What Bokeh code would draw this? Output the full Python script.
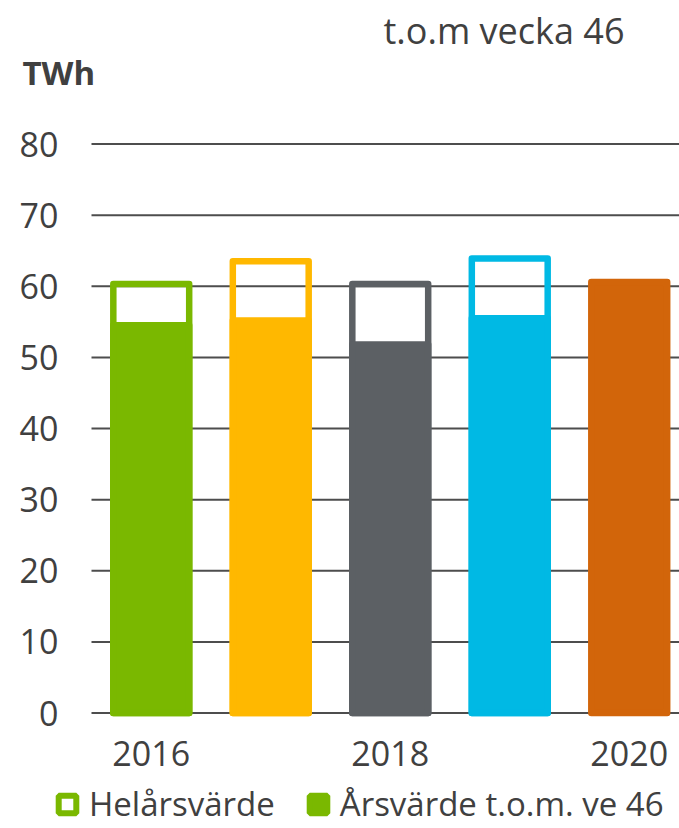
from bokeh.plotting import figure
from bokeh.models import Range1d, FixedTicker, Label, Legend, LegendItem
from bokeh.embed import file_html
from bokeh.resources import INLINE

# ---- data ----
years = ["2016", "2017", "2018", "2019", "2020"]
full_year = [60.3, 63.5, 60.3, 63.9, None]      # Helårsvärde (outline)
ytd_w46 = [54.5, 55.2, 51.8, 55.5, 60.6]        # Årsvärde t.o.m. vecka 46 (filled)
bar_colors = ["#7AB800", "#FFB800", "#5C6064", "#00B9E4", "#D2650A"]
y_ticks = [0, 10, 20, 30, 40, 50, 60, 70, 80]
x_tick_years = ["2016", "2018", "2020"]
legend_labels = ["Helårsvärde", "Årsvärde t.o.m. ve 46"]
subtitle = "t.o.m vecka 46"
unit_label = "TWh"

FONT = "Open Sans"
TEXT = "#404040"
W, H = 679, 828

# layout: plot band starts at px 91, one category = 119.5 px, 0 at px 712.5, 7.1125 px per TWh
BAND_LEFT_PX = 91
PX_PER_CAT = 119.5
ZERO_PX = 712.5
PX_PER_UNIT = 7.1125


def px2x(px):
    return -0.5 + (px - BAND_LEFT_PX) / PX_PER_CAT


def px2y(py):
    return (ZERO_PX - py) / PX_PER_UNIT


p = figure(width=W, height=H, x_range=Range1d(px2x(0), px2x(W)), y_range=Range1d(px2y(H), px2y(0)),
           output_backend="svg", toolbar_location=None,
           min_border_left=0, min_border_right=0, min_border_top=0, min_border_bottom=0)
p.outline_line_color = None
p.background_fill_color = "white"
p.border_fill_color = "white"
p.xgrid.grid_line_color = None
p.ygrid.grid_line_color = None

# horizontal gridlines across the category band
p.segment(x0=-0.5, x1=px2x(W), y0=y_ticks, y1=y_ticks, line_color="#4D4D4D", line_width=2)

# axes drawn at fixed locations (band left / just below zero)
p.yaxis.fixed_location = -0.5
p.xaxis.fixed_location = px2y(717)
p.yaxis.ticker = FixedTicker(ticks=y_ticks)
p.xaxis.ticker = FixedTicker(ticks=[years.index(y) for y in x_tick_years])
p.xaxis.major_label_overrides = {years.index(y): y for y in x_tick_years}
for ax in (p.xaxis[0], p.yaxis[0]):
    ax.axis_line_color = None
    ax.major_tick_line_color = None
    ax.minor_tick_line_color = None
    ax.major_tick_out = 0
    ax.major_tick_in = 0
    ax.minor_tick_out = 0
    ax.major_label_text_font = FONT
    ax.major_label_text_font_size = "34px"
    ax.major_label_text_color = TEXT
p.yaxis.major_label_standoff = 33
p.xaxis.major_label_standoff = 23

# bars
BAR_W = 0.635
LW = 6.5
idx = [i for i, v in enumerate(full_year) if v is not None]
p.vbar(x=idx, top=[full_year[i] for i in idx], bottom=0, width=BAR_W,
       fill_color=None, line_color=[bar_colors[i] for i in idx],
       line_width=LW, line_join="round")
p.vbar(x=list(range(len(years))), top=ytd_w46, bottom=0, width=BAR_W,
       fill_color=bar_colors, line_color=bar_colors, line_width=LW, line_join="round")

# header texts
p.add_layout(Label(x=px2x(383), y=px2y(30), text=subtitle, text_font=FONT, text_font_size="36px",
                   text_color=TEXT, text_baseline="alphabetic"))
p.add_layout(Label(x=px2x(22), y=px2y(72), text=unit_label, text_font=FONT, text_font_style="bold",
                   text_font_size="33px", text_color=TEXT, text_baseline="alphabetic"))

# legend (marker renderers kept off-canvas)
r_out = p.scatter(x=[-50], y=[-500], marker="square", size=18, fill_color="white",
                  line_color=bar_colors[0], line_width=6)
r_fill = p.scatter(x=[-50], y=[-500], marker="square", size=18, fill_color=bar_colors[0],
                   line_color=bar_colors[0], line_width=6)
legend = Legend(items=[LegendItem(label=legend_labels[0], renderers=[r_out]),
                       LegendItem(label=legend_labels[1], renderers=[r_fill])],
                orientation="horizontal", location=(45, 2),
                glyph_width=44, glyph_height=44, label_height=44, label_standoff=0, spacing=21,
                label_text_font=FONT, label_text_font_size="33px", label_text_color=TEXT,
                padding=0, margin=0, border_line_color=None, background_fill_alpha=0)
p.add_layout(legend)

open("out.html", "w").write(file_html(p, INLINE))
